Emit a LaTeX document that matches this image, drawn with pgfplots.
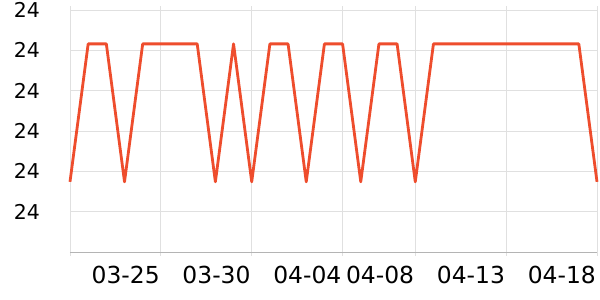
\documentclass[border=0pt]{standalone}
\usepackage{pgfplots}
\pgfplotsset{compat=1.18}
\usepackage{fontspec}
\setmainfont{DejaVu Sans}
\definecolor{lineC}{RGB}{238,77,45}
\definecolor{gridC}{RGB}{224,224,224}
\definecolor{axisC}{RGB}{180,180,180}
\begin{document}
\begin{tikzpicture}
\begin{axis}[
  scale only axis,
  width=527bp, height=242bp,
  xmin=0, xmax=29, ymin=24.0, ymax=24.3,
  axis line style={draw=none},
  xtick={5,10,15,19,24,29},
  xticklabels={03-25,03-30,04-04,04-08,04-13,04-18},
  extra x ticks={0},
  extra x tick labels={},
  ytick={24.05,24.10,24.15,24.20,24.25,24.30},
  yticklabels={24,24,24,24,24,24},
  grid=major,
  major grid style={draw=gridC, line width=0.8bp},
  tick align=outside,
  major tick length=4bp,
  xtick style={draw=gridC, line width=0.8bp},
  ytick style={draw=none},
  /pgf/number format/assume math mode=true,
  xticklabel style={font=\fontsize{23.5}{26}\selectfont, anchor=north east, inner sep=0pt, xshift=-1bp, yshift=-10bp},
  yticklabel style={font=\fontsize{20.5}{23}\selectfont, anchor=east, inner sep=0pt, xshift=-26bp},
  clip=false,
]
\draw[axisC, line width=0.8bp] (rel axis cs:0,0) -- (rel axis cs:1,0);
\addplot[lineC, line width=2.8bp, line join=round, mark=none] coordinates {
(0,24.087) (1,24.258) (2,24.258) (3,24.087) (4,24.258) (5,24.258) (6,24.258) (7,24.258)
(8,24.087) (9,24.258) (10,24.087) (11,24.258) (12,24.258) (13,24.087) (14,24.258) (15,24.258)
(16,24.087) (17,24.258) (18,24.258) (19,24.087) (20,24.258) (21,24.258) (22,24.258) (23,24.258)
(24,24.258) (25,24.258) (26,24.258) (27,24.258) (28,24.258) (29,24.087)
};
\end{axis}
\pgfresetboundingbox
\path[use as bounding box] (-70bp,-48bp) rectangle (530bp,252bp);
\end{tikzpicture}
\end{document}
